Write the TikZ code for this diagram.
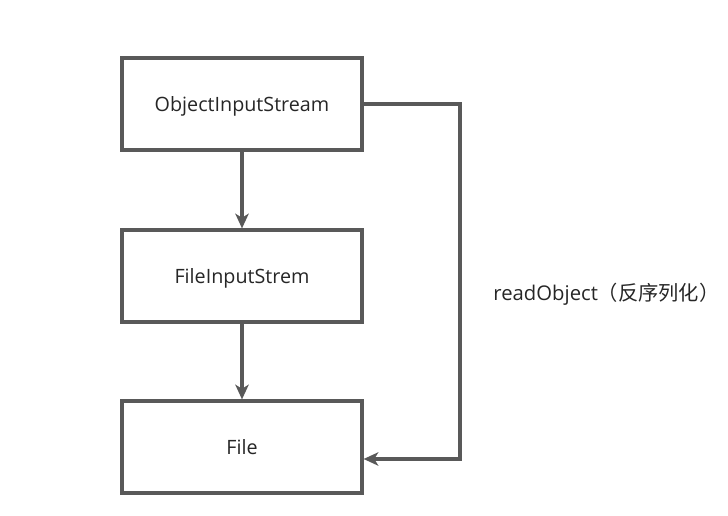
\documentclass[tikz,border=0pt]{standalone}
\usepackage{fontspec}
\setmainfont{Open Sans}
\newfontfamily\cjk{Noto Sans CJK SC}
\usepackage{xcolor}
\usetikzlibrary{arrows.meta}
\definecolor{edgegray}{HTML}{595959}
\definecolor{textgray}{HTML}{262626}

\begin{document}
\begin{tikzpicture}[x=0.75pt,y=-0.75pt,
    box/.style={draw=edgegray,line width=2.4pt,minimum width=180pt,minimum height=69pt,
      inner sep=0pt,text=textgray,font=\fontsize{14.8}{17}\selectfont},
    link/.style={draw=edgegray,line width=2.4pt,-{Stealth[length=11pt,width=10pt,inset=3pt]}}]
    \useasboundingbox (0,0) rectangle (728,516);
    \node[box] (ois) at (242,104) {\raisebox{-5.8pt}[0pt][0pt]{ObjectInputStream}};
    \node[box] (fis) at (242,276) {\raisebox{-5.8pt}[0pt][0pt]{FileInputStrem}};
    \node[box] (file) at (242,447) {\raisebox{-5.8pt}[0pt][0pt]{File}};
    \node[anchor=base,text=textgray,font=\fontsize{15.2}{17}\selectfont] (read) at (606.5,300.7) {readObject{\cjk（反序列化）}};
    \coordinate (turn1) at (460,104);
    \coordinate (turn2) at (460,459);
    \draw[link] (ois) -- (fis);
    \draw[link] (fis) -- (file);
    \draw[link] (ois.east) -- (turn1) -- (turn2) -- (file.east |- turn2);
\end{tikzpicture}
\end{document}
